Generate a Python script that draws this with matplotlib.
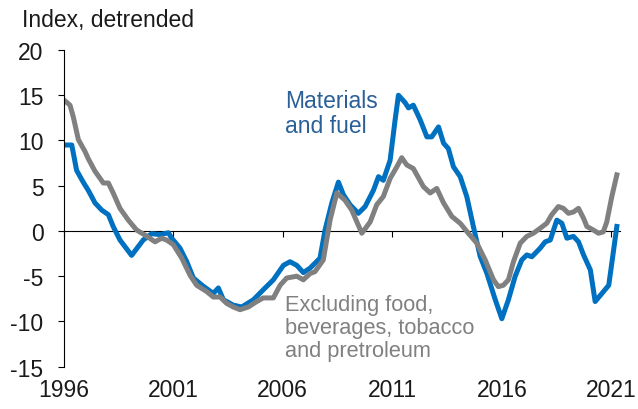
import matplotlib
matplotlib.use("Agg")
import matplotlib.pyplot as plt
import matplotlib.transforms as mtransforms

# Materials and fuel (blue)
mat_years = [1996.0, 1996.37, 1996.59, 1996.89, 1997.12, 1997.43, 1997.74, 1998.04, 1998.26,
             1998.57, 1999.10, 1999.63, 2000.02, 2000.40, 2000.78, 2000.93, 2001.31, 2001.62,
             2001.92, 2002.37, 2002.83, 2003.06, 2003.29, 2003.74, 2004.13, 2004.66, 2005.11,
             2005.57, 2006.03, 2006.33, 2006.64, 2006.94, 2007.25, 2007.70, 2007.93, 2008.24,
             2008.54, 2008.77, 2009.07, 2009.45, 2009.76, 2010.14, 2010.37, 2010.59, 2010.90,
             2011.13, 2011.28, 2011.58, 2011.74, 2011.96, 2012.27, 2012.58, 2012.80, 2013.11,
             2013.34, 2013.56, 2013.79, 2014.10, 2014.40, 2014.70, 2015.01, 2015.32, 2015.70,
             2016.00, 2016.30, 2016.61, 2016.91, 2017.14, 2017.37, 2017.75, 2017.98, 2018.21,
             2018.51, 2018.74, 2018.97, 2019.27, 2019.50, 2019.73, 2020.04, 2020.26, 2020.57,
             2020.88, 2021.04, 2021.25]
mat_values = [9.5, 9.5, 6.7, 5.4, 4.5, 3.1, 2.3, 1.8, 0.5,
              -1.0, -2.7, -1.0, -0.3, -0.4, -0.2, -0.8, -1.9, -3.4,
              -5.2, -6.1, -6.9, -6.3, -7.6, -8.2, -8.4, -7.6, -6.5,
              -5.4, -3.8, -3.4, -3.8, -4.6, -4.1, -3.0, 0.1, 3.1,
              5.4, 4.0, 2.9, 1.95, 2.7, 4.5, 6.0, 5.6, 7.8,
              12.3, 15.0, 14.2, 13.6, 13.9, 12.3, 10.4, 10.4, 11.5,
              9.7, 9.1, 7.1, 6.0, 3.8, 0.5, -2.8, -4.7, -7.6,
              -9.7, -7.6, -5.0, -3.2, -2.65, -2.85, -1.9, -1.2, -1.0,
              1.2, 0.85, -0.8, -0.6, -1.2, -2.65, -4.3, -7.8, -6.9,
              -6.0, -3.2, 0.5]

# Excluding food, beverages, tobacco and petroleum (grey)
exc_years = [1996.0, 1996.29, 1996.44, 1996.67, 1996.97, 1997.12, 1997.43, 1997.81, 1998.04,
             1998.26, 1998.57, 1998.95, 1999.33, 1999.71, 2000.17, 2000.47, 2000.70, 2001.00,
             2001.39, 2001.77, 2002.07, 2002.53, 2002.83, 2003.14, 2003.44, 2003.74, 2004.05,
             2004.43, 2004.81, 2005.11, 2005.57, 2005.88, 2006.18, 2006.64, 2006.94, 2007.25,
             2007.47, 2007.85, 2008.16, 2008.47, 2008.84, 2009.15, 2009.61, 2009.99, 2010.29,
             2010.59, 2010.90, 2011.21, 2011.43, 2011.66, 2011.96, 2012.42, 2012.73, 2013.03,
             2013.34, 2013.72, 2014.10, 2014.47, 2014.86, 2015.24, 2015.62, 2015.84, 2016.07,
             2016.30, 2016.53, 2016.84, 2017.14, 2017.44, 2017.75, 2018.05, 2018.28, 2018.58,
             2018.81, 2019.04, 2019.27, 2019.50, 2019.73, 2019.88, 2020.18, 2020.41, 2020.63,
             2020.79, 2021.02, 2021.25]
exc_values = [14.5, 13.9, 12.6, 10.1, 8.8, 8.0, 6.6, 5.3, 5.3,
              4.2, 2.5, 1.2, 0.1, -0.45, -1.2, -0.8, -1.0, -1.5,
              -3.0, -4.9, -6.0, -6.7, -7.3, -7.3, -8.0, -8.4, -8.7,
              -8.4, -7.8, -7.4, -7.4, -6.0, -5.2, -5.0, -5.4, -4.7,
              -4.5, -3.2, 1.2, 4.2, 3.4, 2.3, -0.25, 1.0, 2.9,
              3.8, 5.8, 7.1, 8.1, 7.3, 6.9, 4.9, 4.2, 4.7,
              3.1, 1.6, 0.85, -0.25, -1.35, -3.2, -5.4, -6.15, -6.0,
              -5.4, -3.4, -1.35, -0.6, -0.25, 0.3, 0.85, 1.8, 2.7,
              2.5, 1.95, 2.1, 2.5, 1.4, 0.5, 0.1, -0.25, -0.1,
              1.0, 3.8, 6.2]

xticks = [1996, 2001, 2006, 2011, 2016, 2021]
yticks = [-15, -10, -5, 0, 5, 10, 15, 20]

blue = "#0070C0"
grey = "#808080"

plt.rcParams['font.family'] = ['Liberation Sans', 'DejaVu Sans']
plt.rcParams['font.size'] = 16.5

fig = plt.figure(figsize=(6.38, 4.10), dpi=100)
ax = fig.add_axes([0.0998, 0.1032, 0.8722, 0.7724])

ax.plot(mat_years, mat_values, color=blue, lw=3.6, solid_joinstyle='round')
ax.plot(exc_years, exc_values, color=grey, lw=3.6, solid_joinstyle='round')

ax.set_xlim(1996, 2021.4)
ax.set_ylim(-15, 20)
ax.set_yticks(yticks)
ax.set_yticklabels([str(v) for v in yticks], color='#1a1a1a')
ax.tick_params(axis='y', direction='out', length=4.5, width=0.8, pad=10)

for s in ['top', 'right']:
    ax.spines[s].set_visible(False)
ax.spines['left'].set_linewidth(0.8)
ax.spines['bottom'].set_position(('data', 0))
ax.spines['bottom'].set_linewidth(0.8)
ax.spines['bottom'].set_zorder(0)
ax.set_xticks(xticks)
ax.tick_params(axis='x', direction='out', length=4.5, width=0.8, labelbottom=False)

trans = mtransforms.blended_transform_factory(ax.transData, ax.transAxes)
for yr in xticks:
    ax.text(yr, -0.035, str(yr), transform=trans, ha='center', va='top', color='#1a1a1a')

fig.text(22 / 638, 1 - 20 / 410, "Index, detrended", ha='left', va='center', color='#1a1a1a')

ax.text(2006.1, 13.0, "Materials\nand fuel", color='#2A5F98', ha='left', va='center',
        linespacing=1.1)
ax.text(2006.1, -10.7, "Excluding food,\nbeverages, tobacco\nand pretroleum", color=grey,
        ha='left', va='center', linespacing=1.12, fontsize=15.7)

fig.savefig("out.png", dpi=100)
